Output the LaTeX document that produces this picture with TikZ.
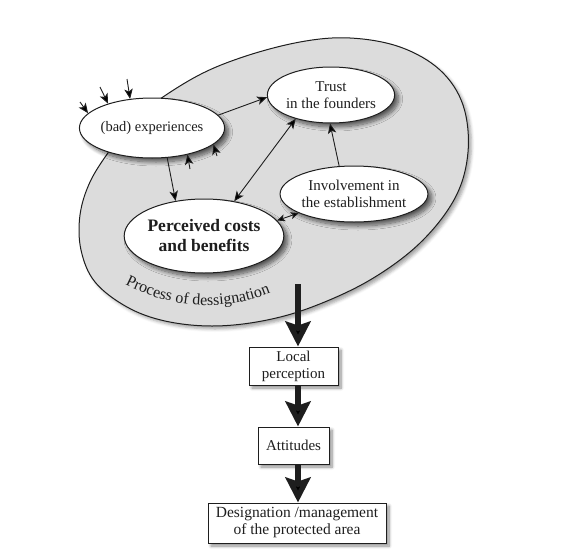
\documentclass[tikz,border=0pt]{standalone}
\usepackage{fontspec}
\setmainfont{Liberation Serif}
\usetikzlibrary{arrows.meta,shapes.geometric,shadows.blur,decorations.text}
\definecolor{blobgray}{HTML}{DCDCDC}
\definecolor{ink}{HTML}{1E1E1E}
\newcommand{\fsz}[2]{\fontsize{#1}{#2}\selectfont}
\begin{document}
\begin{tikzpicture}[x=1pt,y=-1pt,
  softshadow/.style={blur shadow={shadow xshift=4pt, shadow yshift=-4pt, shadow blur radius=4pt, shadow blur steps=10, shadow opacity=60}},
  oval/.style={ellipse, draw=ink, line width=1pt, fill=white, inner sep=0pt, align=center, text=ink, softshadow},
  box/.style={rectangle, draw=ink, line width=1pt, fill=white, inner sep=0pt, align=center, text=ink, blur shadow={shadow xshift=3pt, shadow yshift=-3pt, shadow blur radius=3pt, shadow blur steps=8, shadow opacity=45}},
  tipA/.tip={Stealth[length=10pt 0,width=8.5pt 0,inset=2.5pt]},
  tipB/.tip={Stealth[length=8pt 0,width=7pt 0,inset=2pt]},
  link/.style={-tipA, line width=0.9pt, draw=ink},
  dlink/.style={tipA-tipA, line width=0.9pt, draw=ink},
  slink/.style={tipB-tipB, line width=0.9pt, draw=ink},
  bigarrow/.style={line width=5.5pt, draw=ink, -{Stealth[length=25pt 0,width=25pt 0,inset=4pt]}}
]
\useasboundingbox (0,0) rectangle (583,554);
% process blob
\path[fill=blobgray, draw=ink, line width=1pt, blur shadow={shadow xshift=3pt, shadow yshift=-3pt, shadow blur radius=3pt, shadow opacity=35}]
  plot[smooth cycle, tension=0.6] coordinates {(135,118) (110,150) (90,182) (80,215) (81,250) (95,282) (127,307) (165,321) (212,326) (262,321) (312,307) (370,280) (420,243) (455,198) (468,152) (463,105) (440,70) (400,47) (350,38) (300,42) (240,58) (190,80)};
% ellipses
\node[oval, minimum width=120pt, minimum height=60pt, font=\fsz{14.5}{17}] (bad) at (152,128) {(bad) experiences};
\node[oval, minimum width=126pt, minimum height=56pt, font=\fsz{15}{16.5}] (trust) at (331,95) {Trust\\in the founders};
\node[oval, minimum width=116pt, minimum height=56pt, font=\fsz{15}{17}] (inv) at (354,194) {Involvement in\\the establishment};
\node[oval, minimum width=156pt, minimum height=74pt, font=\bfseries\fsz{17.5}{20}] (perc) at (204,236) {Perceived costs\\and benefits};
% label along border
\path[decorate, decoration={text along path, text={|\fsz{16}{18}|Process of dessignation}, text align=center, text color=ink}]
  (116,280) .. controls (175,313) and (232,311) .. (280,289);
% inner connectors
\draw[link] (bad.11) -- (trust.182);
\draw[link] (bad.-63) -- (perc.129);
\draw[dlink] (trust.-146) -- (perc.49);
\draw[link] (inv.118) -- (trust.-92);
\draw[slink] (perc.12) -- (inv.199);
% outside influences
\coordinate (e1) at (80,102);
\coordinate (e2) at (100,87);
\coordinate (e3) at (127,79);
\coordinate (e4) at (190,169);
\coordinate (e5) at (217,156);
\draw[link] (e1) -- (bad.167);
\draw[link] (e2) -- (bad.151);
\draw[link] (e3) -- (bad.127);
\draw[link] (e4) -- (bad.-37);
\draw[link] (e5) -- (bad.-15);
% boxes
\node[box, minimum width=89pt, minimum height=38pt, font=\fsz{15}{17}] (loc) at (293.5,366) {Local\\perception};
\node[box, minimum width=71pt, minimum height=37pt, font=\fsz{15}{17}] (att) at (293.5,445.5) {Attitudes};
\node[box, minimum width=178pt, minimum height=40pt, font=\fsz{15.5}{17}] (des) at (297,523) {Designation /management\\of the protected area};
% big arrows
\coordinate (ax) at (298,284);
\draw[bigarrow] (ax) -- (loc.north -| ax);
\draw[bigarrow] (loc.south -| ax) -- (att.north -| ax);
\draw[bigarrow] (att.south -| ax) -- (des.north -| ax);
\end{tikzpicture}
\end{document}
